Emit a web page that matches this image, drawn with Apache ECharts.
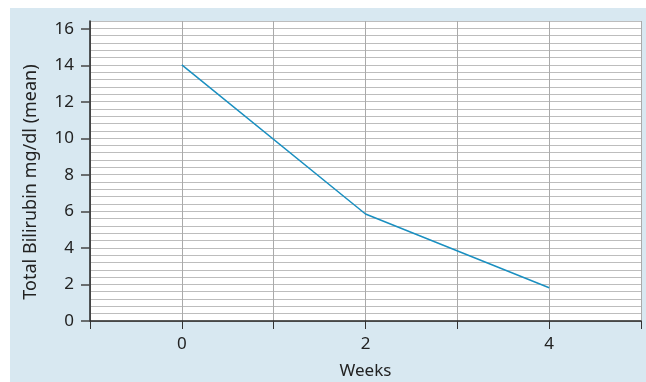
<!DOCTYPE html>
<html>
<head>
<meta charset="utf-8">
<script src="https://cdn.jsdelivr.net/npm/echarts@6/dist/echarts.min.js"></script>
<style>
html,body{margin:0;padding:0;background:#fff;}
#panel{position:absolute;left:10px;top:8px;width:636px;height:374px;background:#d8e8f1;}
#chart{position:absolute;left:0;top:0;width:646px;height:382px;}
</style>
</head>
<body>
<div id="panel"></div>
<div id="chart"></div>
<script>
const weeks = [0, 2, 4];
const bilirubin = [14.0, 5.85, 1.82];
const xTickLabels = ['0', '2', '4'];
const yTickLabels = ['0', '2', '4', '6', '8', '10', '12', '14', '16'];

const chart = echarts.init(document.getElementById('chart'), null, {renderer: 'canvas'});
const font = 'Noto Sans';
const option = {
  backgroundColor: 'transparent',
  animation: false,
  grid: [
    {left: 90, right: 5, top: 21, bottom: 61, show: true, backgroundColor: '#ffffff', borderWidth: 0, outerBoundsMode: 'none', containLabel: false},
    {left: 90, right: 5, top: 29, bottom: 61, outerBoundsMode: 'none', containLabel: false}
  ],
  xAxis: [
    {
      gridIndex: 0, type: 'value', min: -1, max: 5, interval: 1,
      name: 'Weeks', nameLocation: 'middle', nameGap: 42,
      nameTextStyle: {fontFamily: font, fontSize: 17, color: '#222'},
      axisLine: {show: true, onZero: false, lineStyle: {color: '#222', width: 1.5}},
      axisTick: {show: true, inside: false, length: 8, lineStyle: {color: '#333', width: 1}},
      axisLabel: {
        margin: 15, fontFamily: font, fontSize: 17, color: '#222',
        formatter: v => { const s = String(Math.round(v)); return xTickLabels.includes(s) && Math.abs(v - Math.round(v)) < 1e-6 ? s : ''; }
      },
      splitLine: {show: true, lineStyle: {color: '#aaaaaa', width: 1}}
    },
    {
      gridIndex: 1, type: 'value', min: -1, max: 5, show: false
    }
  ],
  yAxis: [
    {
      gridIndex: 0, type: 'value', min: 0, max: 16.4, interval: 0.4,
      axisLine: {show: true, onZero: false, lineStyle: {color: '#222', width: 1.5}},
      axisTick: {show: false},
      axisLabel: {show: false},
      splitLine: {show: true, lineStyle: {color: '#bdbdbd', width: 1}}
    },
    {
      gridIndex: 1, type: 'value', min: 0, max: 16, interval: 2,
      name: 'Total Bilirubin mg/dl (mean)', nameLocation: 'middle', nameGap: 50, nameRotate: 90,
      nameTextStyle: {fontFamily: font, fontSize: 18, color: '#222', padding: [0, 14, 0, 0]},
      axisLine: {show: false, onZero: false},
      axisTick: {show: true, inside: false, length: 9, lineStyle: {color: '#444', width: 1.5}},
      axisLabel: {
        margin: 16, fontFamily: font, fontSize: 17, color: '#222',
        formatter: v => { const s = String(Math.round(v)); return yTickLabels.includes(s) ? s : ''; }
      },
      splitLine: {show: false}
    }
  ],
  series: [
    {
      type: 'line', xAxisIndex: 0, yAxisIndex: 0,
      data: weeks.map((w, i) => [w, bilirubin[i]]),
      showSymbol: false, symbol: 'none',
      lineStyle: {color: '#1a8fc0', width: 1.5}
    }
  ]
};
chart.setOption(option);
</script>
</body>
</html>
